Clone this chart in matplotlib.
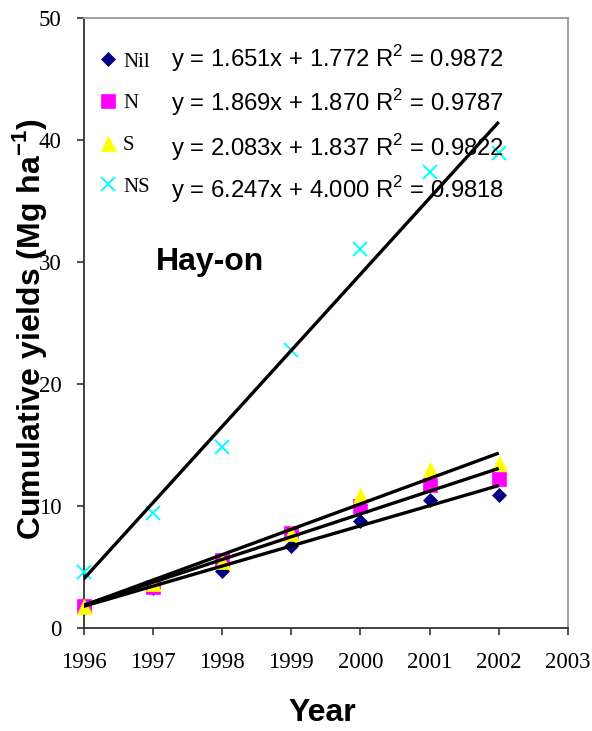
import matplotlib
matplotlib.use("Agg")
import matplotlib.pyplot as plt
import numpy as np

years = [1996, 1997, 1998, 1999, 2000, 2001, 2002]
nil = [1.6, 3.3, 4.7, 6.7, 8.8, 10.5, 10.9]
n = [1.8, 3.4, 5.6, 7.8, 10.0, 11.7, 12.2]
s = [1.8, 3.7, 5.5, 7.8, 10.9, 13.0, 13.5]
ns = [4.6, 9.4, 14.8, 22.8, 31.1, 37.4, 38.9]

labels = ["Nil", "N", "S", "NS"]
slopes = [1.651, 1.869, 2.083, 6.247]
intercepts = [1.772, 1.870, 1.837, 4.000]
r2 = [0.9872, 0.9787, 0.9822, 0.9818]

yticks = [0, 10, 20, 30, 40, 50]
xticks = [1996, 1997, 1998, 1999, 2000, 2001, 2002, 2003]

W, H = 592, 731
fig = plt.figure(figsize=(W / 100, H / 100), dpi=100)
ax = fig.add_axes([83.5 / W, 1 - 628 / H, (568 - 83.5) / W, (628 - 18) / H])

styles = [
    dict(marker="D", color="#000080", ms=7.4, mec="#000080", mew=0.5),
    dict(marker="s", color="#FF00FF", ms=9.4, mec="#FF00FF", mew=0.5),
    dict(marker="^", color="#FFFF00", ms=10.8, mec="#FFFF00", mew=0.5),
    dict(marker="x", color="#00FFFF", ms=10.5, mew=1.4),
]
series = [nil, n, s, ns]
handles = []
for vals, st, lab in zip(series, styles, labels):
    h, = ax.plot(years, vals, linestyle="none", clip_on=False, zorder=3, label=lab, **st)
    handles.append(h)

x0 = years[0]
xf = np.array([years[0], years[-1]], dtype=float)
for a, b in zip(slopes, intercepts):
    ax.plot(xf, a * (xf - x0) + b, color="black", lw=2.4, zorder=4, solid_capstyle="butt")

ax.set_xlim(1996, 2003)
ax.set_ylim(0, 50)
ax.set_xticks(xticks)
ax.set_yticks(yticks)
ax.set_xticklabels([str(t) for t in xticks], fontfamily="Liberation Serif", fontsize=16.5)
ax.set_yticklabels([str(t) for t in yticks], fontfamily="Liberation Serif", fontsize=16.5)
ax.tick_params(axis="both", direction="out", length=5, width=1.2, color="#333333")
ax.tick_params(axis="y", pad=11)
ax.tick_params(axis="x", pad=12)

for side in ["left", "bottom"]:
    ax.spines[side].set_color("#333333")
    ax.spines[side].set_linewidth(1.3)
for side in ["top", "right"]:
    ax.spines[side].set_color("#999999")
    ax.spines[side].set_linewidth(1.3)

ax.set_ylabel("Cumulative yields (Mg ha$^{\\mathregular{-1}}$)", fontfamily="Liberation Sans",
              fontweight="bold", fontsize=23)
ax.yaxis.set_label_coords(-(83.5 - 30) / (568 - 83.5), (628 - 329) / (628 - 18))
ax.yaxis.label.set_va("center")
ax.set_xlabel("Year", fontfamily="Liberation Sans", fontweight="bold", fontsize=23)
ax.xaxis.set_label_coords((322 - 83.5) / (568 - 83.5), -(713 - 628) / (628 - 18))
ax.xaxis.label.set_va("center")

leg = ax.legend(handles=handles, loc="upper left", bbox_to_anchor=(0.032, 0.944), frameon=False,
                prop={"family": "Liberation Serif", "size": 15}, handlelength=0.9,
                handletextpad=0.25, labelspacing=1.06, borderpad=0, borderaxespad=0)

# equations
eq_y_px = [67, 111, 156, 198]
for a, b, r, yp in zip(slopes, intercepts, r2, eq_y_px):
    txt = f"y = {a:.3f}x + {b:.3f} R$^{{\\mathregular{{2}}}}$ = {r:.4f}"
    fig.text(171 / W, 1 - yp / H, txt, fontfamily="Liberation Sans", fontsize=17.2,
             ha="left", va="baseline")

ax.text(156 / W, 1 - 270 / H, "Hay-on", transform=fig.transFigure, fontfamily="Liberation Sans",
        fontweight="bold", fontsize=23, ha="left", va="baseline")

fig.savefig("out.png", dpi=100)
